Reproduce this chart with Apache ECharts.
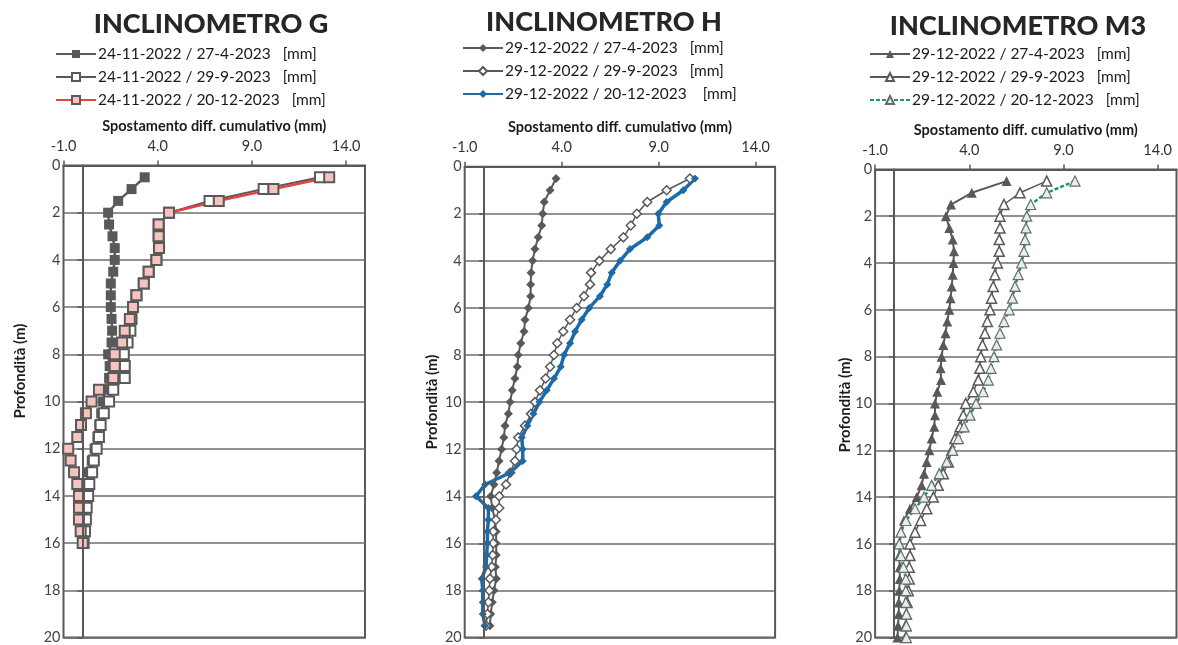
<!DOCTYPE html>
<html>
<head>
<meta charset="utf-8">
<script src="https://cdn.jsdelivr.net/npm/echarts@6/dist/echarts.min.js"></script>
<style>
  html, body { margin: 0; padding: 0; background: #fff; }
  #main { width: 1178px; height: 645px; }
</style>
</head>
<body>
<div id="main"></div>
<script>
  // profondità (m)
  const depthG = [0.5, 1, 1.5, 2, 2.5, 3, 3.5, 4, 4.5, 5, 5.5, 6, 6.5, 7, 7.5, 8, 8.5, 9, 9.5, 10,
    10.5, 11, 11.5, 12, 12.5, 13, 13.5, 14, 14.5, 15, 15.5, 16];
  const depthH = [0.5, 1, 1.5, 2, 2.5, 3, 3.5, 4, 4.5, 5, 5.5, 6, 6.5, 7, 7.5, 8, 8.5, 9, 9.5, 10,
    10.5, 11, 11.5, 12, 12.5, 13, 13.5, 14, 14.5, 15, 15.5, 16, 16.5, 17, 17.5, 18, 18.5, 19, 19.5];
  const depthM3 = [0.5, 1, 1.5, 2, 2.5, 3, 3.5, 4, 4.5, 5, 5.5, 6, 6.5, 7, 7.5, 8, 8.5, 9, 9.5, 10,
    10.5, 11, 11.5, 12, 12.5, 13, 13.5, 14, 14.5, 15, 15.5, 16, 16.5, 17, 17.5, 18, 18.5, 19, 19.5, 20];

  // spostamento diff. cumulativo (mm) - inclinometro G
  const gApr = [3.31, 2.61, 1.90, 1.37, 1.42, 1.60, 1.72, 1.72, 1.64, 1.51, 1.51, 1.51, 1.55, 1.58, 1.55, 1.37,
    1.45, 1.42, 1.20, 1.10, 1.00, 0.90, 0.80, 0.65, 0.50, 0.35, 0.25, 0.18, 0.12, 0.10, 0.05, 0.02];
  const gSep = [12.61, 9.62, 6.75, 4.60, 4.05, 4.05, 4.07, 3.93, 3.52, 3.26, 2.87, 2.69, 2.61, 2.55, 2.40, 2.20,
    2.25, 2.25, 1.64, 1.42, 1.14, 0.97, 0.88, 0.76, 0.61, 0.52, 0.37, 0.31, 0.23, 0.19, 0.14, 0.07];
  const gDec = [13.10, 10.14, 7.24, 4.60, 4.05, 4.05, 4.07, 3.93, 3.52, 3.26, 2.87, 2.69, 2.52, 2.25, 2.11, 1.72,
    1.72, 1.64, 0.88, 0.49, 0.19, -0.07, -0.27, -0.75, -0.62, -0.44, -0.27, -0.18, -0.18, -0.18, -0.09, 0.02];

  // inclinometro H
  const hApr = [3.71, 3.40, 3.10, 3.02, 2.97, 2.79, 2.62, 2.50, 2.42, 2.40, 2.40, 2.28, 2.11, 2.06, 1.89, 1.76,
    1.71, 1.59, 1.45, 1.34, 1.25, 1.08, 1.02, 0.90, 0.77, 0.65, 0.51, 0.34, 0.42, 0.56, 0.62, 0.62, 0.63, 0.58,
    0.63, 0.51, 0.42, 0.34, 0.30];
  const hSep = [10.61, 9.41, 8.41, 7.87, 7.56, 7.18, 6.53, 5.94, 5.51, 5.46, 5.15, 4.77, 4.43, 4.08, 3.77, 3.60,
    3.40, 3.17, 2.88, 2.62, 2.42, 2.11, 1.76, 1.68, 1.59, 1.34, 1.13, 0.78, 0.78, 0.61, 0.47, 0.47, 0.44, 0.39,
    0.30, 0.27, 0.22, 0.17, 0.10];
  const hDec = [10.87, 10.27, 9.41, 8.98, 9.03, 8.41, 7.52, 7.01, 6.58, 6.35, 5.97, 5.42, 5.03, 4.69, 4.43, 4.12,
    3.95, 3.60, 3.23, 2.85, 2.54, 2.23, 1.94, 1.99, 1.99, 1.34, 0.05, -0.42, 0.22, 0.22, 0.17, 0.17, 0.13, 0.10,
    -0.12, -0.07, -0.07, -0.07, 0.05];

  // inclinometro M3
  const mApr = [5.98, 4.13, 3.03, 2.76, 2.94, 3.12, 3.19, 3.16, 3.12, 3.07, 3.01, 2.94, 2.83, 2.74, 2.62, 2.53,
    2.48, 2.50, 2.30, 2.18, 2.18, 2.14, 2.00, 1.88, 1.74, 1.60, 1.47, 1.21, 0.85, 0.53, 0.37, 0.31, 0.28, 0.31,
    0.31, 0.28, 0.26, 0.26, 0.22, 0.19];
  const mSep = [8.11, 6.69, 5.84, 5.63, 5.63, 5.59, 5.59, 5.49, 5.36, 5.27, 5.18, 5.10, 4.96, 4.83, 4.70, 4.61,
    4.56, 4.48, 4.21, 3.81, 3.68, 3.51, 3.24, 3.07, 2.89, 2.62, 2.35, 2.09, 1.74, 1.42, 1.12, 0.85, 0.85, 0.81,
    0.81, 0.76, 0.70, 0.66, 0.63, 0.63];
  const mDec = [9.61, 8.11, 7.26, 7.05, 7.01, 6.96, 6.90, 6.78, 6.60, 6.43, 6.29, 6.12, 5.84, 5.63, 5.45, 5.31,
    5.15, 5.01, 4.74, 4.36, 4.04, 3.72, 3.42, 3.12, 2.80, 2.41, 2.00, 1.60, 1.12, 0.64, 0.37, 0.28, 0.37, 0.50,
    0.63, 0.63, 0.63, 0.66, 0.66, 0.66];

  const titles = ['INCLINOMETRO G', 'INCLINOMETRO H', 'INCLINOMETRO M3'];
  const namesG = ['24-11-2022 / 27-4-2023   [mm]', '24-11-2022 / 29-9-2023   [mm]', '24-11-2022 / 20-12-2023   [mm]'];
  const namesH = ['29-12-2022 / 27-4-2023   [mm]', '29-12-2022 / 29-9-2023   [mm]', '29-12-2022 / 20-12-2023    [mm]'];
  // nbsp so the legend keeps M3 separate from H
  const namesM3 = ['29-12-2022 / 27-4-2023\u00a0\u00a0 [mm]', '29-12-2022 / 29-9-2023\u00a0\u00a0 [mm]', '29-12-2022 / 20-12-2023\u00a0\u00a0 [mm]'];
  const xTickLabels = [-1, 4, 9, 14];
  const xAxisName = 'Spostamento diff. cumulativo (mm)';
  const yAxisName = 'Profondità (m)';

  const dark = '#595959';
  const font = 'Lato';

  // box of each plot
  const grids = [
    {left: 63.5, top: 165.5, width: 301.5, height: 472},
    {left: 464.7, top: 166.7, width: 310.4, height: 471.6},
    {left: 875.1, top: 169.4, width: 301.4, height: 473}
  ];

  function pts(vals, depth) {
    return depth.map((d, i) => [vals[i], d]);
  }

  function xAxis(i) {
    return {
      gridIndex: i, type: 'value', position: 'top', min: -1, max: 15,
      name: xAxisName, nameLocation: 'middle', nameGap: 32,
      nameTextStyle: {fontFamily: font, fontWeight: 'bold', fontSize: 14.5, color: '#1a1a1a'},
      axisLine: {show: true, lineStyle: {color: dark, width: 2}},
      axisTick: {show: true, length: 5, customValues: xTickLabels, lineStyle: {color: dark, width: 1.5}},
      axisLabel: {
        customValues: xTickLabels, margin: 12, fontFamily: font, fontSize: 14.5, color: '#333',
        formatter: v => Number(v).toFixed(1)
      },
      splitLine: {show: false}
    };
  }

  function yAxis(i) {
    return {
      gridIndex: i, type: 'value', inverse: true, min: 0, max: 20, interval: 2,
      axisLine: {show: true, lineStyle: {color: dark, width: 2}},
      axisTick: {show: true, length: 5, lineStyle: {color: dark, width: 1.5}},
      axisLabel: {margin: 3, fontFamily: font, fontSize: 14.5, color: '#444'},
      splitLine: {show: true, lineStyle: {color: '#6e6e6e', width: 1.5}}
    };
  }

  const zeroLine = {
    silent: true, symbol: 'none', label: {show: false},
    lineStyle: {color: dark, width: 2, type: 'solid'},
    data: [{xAxis: 0}]
  };

  function line(name, i, data, opts) {
    return Object.assign({
      name: name, type: 'line', xAxisIndex: i, yAxisIndex: i,
      data: data, showAllSymbol: true, animation: false
    }, opts);
  }

  const series = [
    // G
    line(namesG[0], 0, pts(gApr, depthG), {
      symbol: 'rect', symbolSize: 10,
      itemStyle: {color: dark},
      lineStyle: {color: dark, width: 2.5},
      markLine: zeroLine
    }),
    line(namesG[1], 0, pts(gSep, depthG), {
      symbol: 'rect', symbolSize: 10,
      itemStyle: {color: '#fff', borderColor: dark, borderWidth: 2},
      lineStyle: {color: dark, width: 2}
    }),
    line(namesG[2], 0, pts(gDec, depthG), {
      symbol: 'rect', symbolSize: 10,
      itemStyle: {color: '#f6c3be', borderColor: dark, borderWidth: 2},
      lineStyle: {color: '#e5423b', width: 2.5}
    }),
    // H
    line(namesH[0], 1, pts(hApr, depthH), {
      symbol: 'diamond', symbolSize: 9,
      itemStyle: {color: dark},
      lineStyle: {color: dark, width: 2},
      markLine: zeroLine
    }),
    line(namesH[1], 1, pts(hSep, depthH), {
      symbol: 'diamond', symbolSize: 9,
      itemStyle: {color: '#fff', borderColor: dark, borderWidth: 1.5},
      lineStyle: {color: dark, width: 1.5}
    }),
    line(namesH[2], 1, pts(hDec, depthH), {
      symbol: 'diamond', symbolSize: 8,
      itemStyle: {color: '#1d6aa8'},
      lineStyle: {color: '#1d6aa8', width: 3.5}
    }),
    // M3
    line(namesM3[0], 2, pts(mApr, depthM3), {
      symbol: 'triangle', symbolSize: 10,
      itemStyle: {color: dark},
      lineStyle: {color: dark, width: 2},
      markLine: zeroLine
    }),
    line(namesM3[1], 2, pts(mSep, depthM3), {
      symbol: 'triangle', symbolSize: 10,
      itemStyle: {color: '#fff', borderColor: dark, borderWidth: 1.5},
      lineStyle: {color: dark, width: 1.5}
    }),
    line(namesM3[2], 2, pts(mDec, depthM3), {
      symbol: 'triangle', symbolSize: 10,
      itemStyle: {color: '#e3f2e9', borderColor: '#6a6a6a', borderWidth: 1.2},
      lineStyle: {color: '#1f9a5c', width: 2.5, type: [4, 2]}
    })
  ];

  const legendPos = [
    {left: 55, top: 46},
    {left: 462, top: 40},
    {left: 869, top: 46}
  ];
  const legendNames = [namesG, namesH, namesM3];

  const myChart = echarts.init(document.getElementById('main'));
  myChart.setOption({
    animation: false,
    backgroundColor: '#fff',
    textStyle: {fontFamily: font},
    title: [
      {text: titles[0], left: 211, top: 11, textAlign: 'center'},
      {text: titles[1], left: 604, top: 9, textAlign: 'center'},
      {text: titles[2], left: 1018, top: 13, textAlign: 'center'}
    ].map(t => Object.assign(t, {
      padding: 0,
      textStyle: {fontFamily: font, fontWeight: 900, fontSize: 27, color: '#262626'}
    })),
    legend: legendPos.map((p, i) => ({
      left: p.left, top: p.top, orient: 'vertical', align: 'left', padding: 0,
      itemWidth: 40, itemHeight: 10, itemGap: 7,
      selectedMode: false,
      data: legendNames[i],
      textStyle: {fontFamily: font, fontSize: 15.5, color: '#1a1a1a', padding: [0, 0, 0, -3]}
    })),
    grid: grids.map(g => Object.assign({
      show: true, borderColor: dark, borderWidth: 2, backgroundColor: '#fff', containLabel: false
    }, g)),
    xAxis: [0, 1, 2].map(xAxis),
    yAxis: [0, 1, 2].map(yAxis),
    graphic: [
      {x: 20, y: 371}, {x: 432, y: 402}, {x: 845, y: 405}
    ].map(p => ({
      type: 'text', x: p.x, y: p.y, rotation: Math.PI / 2,
      style: {
        text: yAxisName, fill: '#1a1a1a', font: 'bold 15px Lato',
        align: 'center', verticalAlign: 'middle', textAlign: 'center', textVerticalAlign: 'middle'
      }
    })),
    series: series
  });
</script>
</body>
</html>
